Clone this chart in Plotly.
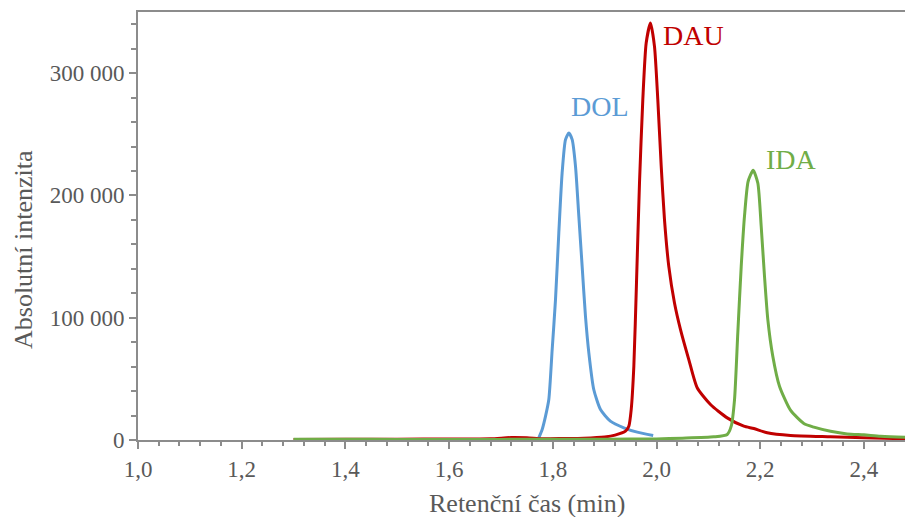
import plotly.graph_objects as go

# DOL (blue)
dol_t = [1.773, 1.7795, 1.786, 1.7923, 1.7988, 1.8052, 1.8116, 1.818, 1.8245, 1.831, 1.8374, 1.8438,
         1.8502, 1.8566, 1.863, 1.8695, 1.879, 1.892, 1.911, 1.937, 1.963, 1.9936]
dol_i = [1800, 8600, 19500, 33100, 74000, 114800, 169300, 218400, 245600, 251100, 245600, 223800,
         183000, 142000, 101200, 71300, 41300, 24900, 15400, 10000, 6400, 3700]

# DAU (red)
dau_t = [1.30, 1.40, 1.50, 1.60, 1.68, 1.72, 1.75, 1.78, 1.82, 1.86, 1.90, 1.92, 1.9402, 1.9466, 1.9512,
         1.9563, 1.9614, 1.9672, 1.9736, 1.9801, 1.9884, 1.9961, 2.0025, 2.0091, 2.0154, 2.0237,
         2.0347, 2.0463, 2.0623, 2.0785, 2.1041, 2.1364, 2.1684, 2.1877, 2.2135, 2.2584, 2.3356,
         2.40, 2.48, 2.50]
dau_i = [500, 600, 700, 800, 1000, 2000, 1800, 1000, 1200, 1500, 2500, 4000, 7200, 11300, 24900,
         60300, 128500, 210200, 278300, 324700, 341000, 321900, 278300, 223800, 180200, 142000,
         112100, 90300, 65800, 42700, 29000, 18100, 11300, 9400, 5900, 3700, 2600,
         1800, 1000, 900]

# IDA (green)
ida_t = [1.30, 1.40, 1.50, 1.60, 1.70, 1.80, 1.90, 2.00, 2.05, 2.1105, 2.1364, 2.1441, 2.1505, 2.1568,
         2.1634, 2.1697, 2.1768, 2.1865, 2.1954, 2.2019, 2.2083, 2.2147, 2.2243, 2.2372, 2.2584,
         2.2841, 2.3034, 2.3356, 2.3678, 2.40, 2.432, 2.48, 2.50]
ida_i = [600, 600, 500, 500, 500, 600, 700, 900, 1500, 2600, 4500, 11300, 33100, 87600,
         142000, 183000, 211600, 220500, 210200, 174800, 133900, 98500, 68500, 44000, 24400,
         13500, 10500, 7200, 5000, 4200, 3100, 2300, 2100]

names = ["DOL", "DAU", "IDA"]
colors = ["#5B9BD5", "#C00000", "#70AD47"]
label_x = [1.831, 2.0085, 2.2081]
label_y = [272600, 330400, 229700]

font_family = "Liberation Serif, Times New Roman, serif"
grey_text = "#595959"
axis_grey = "#8C8C8C"

# plot area on screen: x 138..905, y 12..440
PL, PT, PB = 138, 12, 440
PW, PH = 905 - PL, PB - PT

fig = go.Figure()
for t, i, n, c in zip([dol_t, dau_t, ida_t], [dol_i, dau_i, ida_i], names, colors):
    fig.add_trace(go.Scatter(x=t, y=i, mode="lines", name=n, hoverinfo="skip",
                             line=dict(color=c, width=3, shape="spline", smoothing=0.6)))

for n, c, lx, ly in zip(names, colors, label_x, label_y):
    fig.add_annotation(x=lx, y=ly, xref="x", yref="y", text=n, showarrow=False,
                       xanchor="left", yanchor="middle",
                       font=dict(family=font_family, size=28, color=c))

# axis titles (positions given in screen pixels, converted to paper coords)
fig.add_annotation(x=(527 - PL) / PW, y=(PB - 503) / PH, xref="paper", yref="paper",
                   text="Retenční čas (min)", showarrow=False,
                   xanchor="center", yanchor="middle",
                   font=dict(family=font_family, size=26, color=grey_text))
fig.add_annotation(x=(23 - PL) / PW, y=(PB - 249) / PH, xref="paper", yref="paper",
                   text="Absolutní intenzita", showarrow=False, textangle=-90,
                   xanchor="center", yanchor="middle",
                   font=dict(family=font_family, size=26, color=grey_text))

fig.update_layout(
    width=905, height=517,
    margin=dict(l=PL, r=0, t=PT, b=517 - PB, autoexpand=False),
    paper_bgcolor="white", plot_bgcolor="white",
    showlegend=False,
    separators=", ",
    font=dict(family=font_family, color=grey_text),
)

fig.update_xaxes(
    range=[1.0, 1.0 + 1.5 * 767 / 777.75], dtick=0.2, tick0=1.0, tickformat=".1f", automargin=False,
    showgrid=False, zeroline=False,
    showline=True, linecolor=axis_grey, linewidth=2, mirror=True,
    ticks="outside", ticklen=7, tickwidth=2, tickcolor=axis_grey,
    minor=dict(dtick=0.04, ticks="outside", ticklen=4, tickwidth=1.5, tickcolor=axis_grey),
    tickfont=dict(family=font_family, size=23, color=grey_text),
)
fig.update_yaxes(
    range=[0, 350000], dtick=100000, tickformat=",d", automargin=False,
    showgrid=False, zeroline=False,
    showline=True, linecolor=axis_grey, linewidth=2,
    ticks="outside", ticklen=7, tickwidth=2, tickcolor=axis_grey,
    minor=dict(dtick=20000, ticks="outside", ticklen=5, tickwidth=1.5, tickcolor=axis_grey),
    tickfont=dict(family=font_family, size=23, color=grey_text),
)

fig.write_html(
    "out.html",
    config={"displayModeBar": False},
    post_script="document.body.style.margin='0';document.body.style.overflow='hidden';",
)
